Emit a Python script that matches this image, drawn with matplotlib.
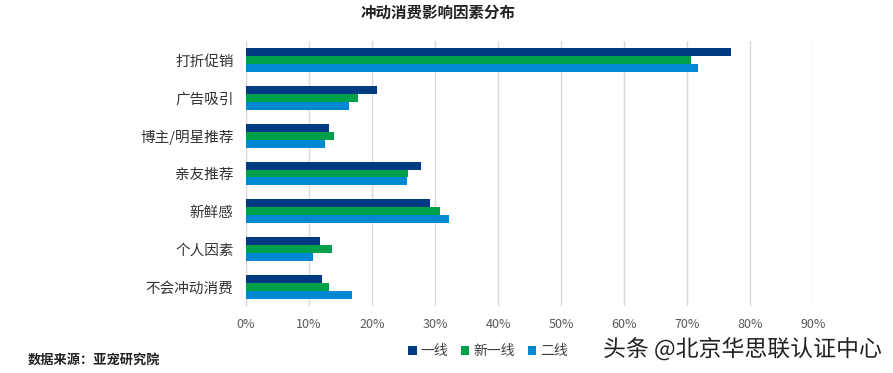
import matplotlib
matplotlib.use("Agg")
import matplotlib.pyplot as plt
import numpy as np
import matplotlib.patheffects as pe

plt.rcParams['font.family'] = ['Noto Sans CJK SC', 'DejaVu Sans']

categories = ['打折促销', '广告吸引', '博主/明星推荐', '亲友推荐', '新鲜感', '个人因素', '不会冲动消费']
series_names = ['一线', '新一线', '二线']
tier1 = [77.0, 20.8, 13.2, 27.7, 29.2, 11.8, 12.0]
newtier1 = [70.7, 17.8, 14.0, 25.7, 30.8, 13.7, 13.2]
tier2 = [71.8, 16.3, 12.5, 25.6, 32.2, 10.6, 16.8]
xticks = [0, 10, 20, 30, 40, 50, 60, 70, 80, 90]
colors = ['#003A83', '#00A04B', '#0088D2']

fig = plt.figure(figsize=(8.93, 3.73), dpi=100)
ax = fig.add_axes([246/893, 1-306/373, (813-246)/893, (306-41)/373])

y = np.arange(len(categories))
h = 0.21
for i, (vals, c, name) in enumerate(zip([tier1, newtier1, tier2], colors, series_names)):
    ax.barh(y + (i - 1) * h, vals, height=h, color=c, label=name, zorder=3)

ax.set_xlim(0, 90)
ax.set_ylim(len(categories) - 0.5, -0.5)
ax.set_yticks(y)
ax.set_yticklabels(categories, fontsize=10.5, color='#333333')
ax.set_xticks(xticks)
ax.set_xticklabels([f'{v}%' for v in xticks], fontsize=9, color='#595959')
ax.tick_params(axis='both', length=0)
ax.tick_params(axis='y', pad=9)
ax.tick_params(axis='x', pad=9)
ax.grid(axis='x', color='#d9d9d9', linewidth=1, zorder=0)
for s in ['top', 'right', 'bottom']:
    ax.spines[s].set_visible(False)
ax.spines['left'].set_color('#d9d9d9')

fig.text(438/893, 1-13/373, '冲动消费影响因素分布', ha='center', va='center',
         fontsize=11.2, fontweight='bold', color='#222222')

leg = fig.legend(loc='center', bbox_to_anchor=(488/893, 1-351/373), ncol=3,
                 frameon=False, fontsize=10, handlelength=0.6, handleheight=0.6,
                 handletextpad=0.3, columnspacing=0.9, labelcolor='#404040')

fig.text(28/893, 1-361/373, '数据来源：亚宠研究院', ha='left', va='center',
         fontsize=9.5, fontweight='bold', color='#222222')

fig.text(603/893, 1-349/373, '头条 @北京华思联认证中心', ha='left', va='center',
         fontsize=16.5, color='#222222',
         path_effects=[pe.withStroke(linewidth=2, foreground='white')])

fig.savefig('out.png', dpi=100)
